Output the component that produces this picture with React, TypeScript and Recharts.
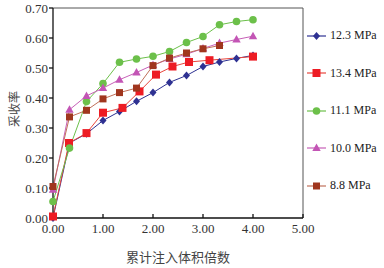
import { LineChart, Line, XAxis, YAxis, Legend, ReferenceLine } from "recharts";

const xEven = [0, 0.33, 0.67, 1.0, 1.33, 1.67, 2.0, 2.33, 2.67, 3.0, 3.33, 3.67, 4.0];
const xRed = [0, 0.32, 0.67, 1.0, 1.39, 1.73, 2.06, 2.39, 2.72, 3.13, 4.0];
const xBrown = [0, 0.33, 0.67, 1.0, 1.33, 1.67, 2.0, 2.33, 2.67, 3.0, 3.33];

const p123 = [0.0, 0.25, 0.281, 0.325, 0.355, 0.389, 0.418, 0.452, 0.475, 0.505, 0.52, 0.532, 0.542];
const p134 = [0.005, 0.25, 0.283, 0.351, 0.367, 0.422, 0.478, 0.505, 0.52, 0.526, 0.538];
const p111 = [0.055, 0.233, 0.388, 0.448, 0.519, 0.53, 0.539, 0.555, 0.585, 0.605, 0.644, 0.655, 0.661];
const p100 = [0.094, 0.361, 0.407, 0.433, 0.461, 0.485, 0.51, 0.53, 0.546, 0.565, 0.583, 0.595, 0.606];
const p88 = [0.105, 0.337, 0.359, 0.397, 0.418, 0.433, 0.508, 0.533, 0.55, 0.564, 0.575];

const xTicks = [0, 1, 2, 3, 4, 5];
const yTicks = [0, 0.1, 0.2, 0.3, 0.4, 0.5, 0.6, 0.7];

const toRows = (xs: number[], ys: number[]) => xs.map((x, i) => ({ x, y: ys[i] }));

const series = [
  { name: "12.3 MPa", data: toRows(xEven, p123), line: "#2e3192", fill: "#2e3192", shape: "diamond" },
  { name: "13.4 MPa", data: toRows(xRed, p134), line: "#e8453c", fill: "#ed1c24", shape: "square" },
  { name: "11.1 MPa", data: toRows(xEven, p111), line: "#6cc04a", fill: "#6cc04a", shape: "circle" },
  { name: "10.0 MPa", data: toRows(xEven, p100), line: "#c760b8", fill: "#c355b5", shape: "triangle" },
  { name: "8.8 MPa", data: toRows(xBrown, p88), line: "#c0705a", fill: "#a0361e", shape: "brownsquare" },
];

const serif = "'Liberation Serif', 'DejaVu Serif', serif";
const cjk = "'Noto Sans CJK SC', sans-serif";

function Marker({ shape, cx, cy, fill }: { shape: string; cx: number; cy: number; fill: string }) {
  if (shape === "diamond")
    return <polygon points={`${cx},${cy - 4} ${cx + 3.5},${cy} ${cx},${cy + 4} ${cx - 3.5},${cy}`} fill={fill} />;
  if (shape === "square") return <rect x={cx - 4} y={cy - 4} width={8} height={8} fill={fill} />;
  if (shape === "brownsquare") return <rect x={cx - 3.5} y={cy - 3.5} width={7} height={7} fill={fill} />;
  if (shape === "circle") return <circle cx={cx} cy={cy} r={3.8} fill={fill} />;
  return <polygon points={`${cx},${cy - 4.5} ${cx + 4.2},${cy + 3} ${cx - 4.2},${cy + 3}`} fill={fill} />;
}

const renderDot = (shape: string, fill: string) => (p: any) => (
  <Marker key={`d-${p.index}`} shape={shape} cx={p.cx} cy={p.cy} fill={fill} />
);

function LegendBox({ payload }: any) {
  const order = series.map((s) => s.name);
  const items = [...(payload || [])].sort((a: any, b: any) => order.indexOf(a.value) - order.indexOf(b.value));
  return (
    <div>
      {items.map((entry: any) => {
        const s = series.find((v) => v.name === entry.value)!;
        return (
          <div key={entry.value} style={{ display: "flex", alignItems: "center", height: 37.5 }}>
            <svg width={22} height={12}>
              <line x1={1} y1={6} x2={20} y2={6} stroke={s.line} strokeWidth={1.2} />
              <Marker shape={s.shape} cx={10.5} cy={6} fill={s.fill} />
            </svg>
            <span style={{ fontFamily: serif, fontSize: 12, color: "#222", marginLeft: 2 }}>{entry.value}</span>
          </div>
        );
      })}
    </div>
  );
}

// y axis title, sitting a little above the plot's middle like the original
function YLabel() {
  return (
    <text x={13} y={109} transform="rotate(-90 13 109)" textAnchor="middle" dominantBaseline="central"
      fill="#444" fontFamily={cjk} fontSize={12}>
      采收率
    </text>
  );
}

export default function App() {
  return (
    <div style={{ position: "absolute", left: 0, top: 0 }}>
      <LineChart width={384} height={268} margin={{ top: 8, right: 81, bottom: 25, left: 0 }}>
        <XAxis
          dataKey="x"
          type="number"
          domain={[0, 5]}
          ticks={xTicks}
          tickFormatter={(v: number) => v.toFixed(2)}
          tickSize={-4}
          tickMargin={10}
          height={25}
          stroke="#111"
          strokeWidth={1.3}
          tick={{ fill: "#333", fontFamily: serif, fontSize: 13 }}
          allowDuplicatedCategory={false}
          label={{ value: "累计注入体积倍数", position: "insideBottom", offset: -19, fill: "#444", fontFamily: cjk, fontSize: 13 }}
        />
        <YAxis
          type="number"
          domain={[0, 0.7]}
          ticks={yTicks}
          tickFormatter={(v: number) => v.toFixed(2)}
          width={53}
          tickSize={4}
          tickMargin={1}
          stroke="#111"
          strokeWidth={1.3}
          tick={{ fill: "#333", fontFamily: serif, fontSize: 13 }}
          label={<YLabel />}
        />
        <ReferenceLine y={0.7} stroke="#555" strokeWidth={1} />
        <ReferenceLine x={5} stroke="#555" strokeWidth={1} />
        {series.map((s) => (
          <Line
            key={s.name}
            name={s.name}
            data={s.data}
            dataKey="y"
            stroke={s.line}
            strokeWidth={1}
            dot={renderDot(s.shape, s.fill)}
            activeDot={false}
            isAnimationActive={false}
          />
        ))}
        <Legend
          layout="vertical"
          align="center"
          verticalAlign="middle"
          content={<LegendBox />}
          wrapperStyle={{ left: 306, top: 17, width: 78 }}
        />
      </LineChart>
    </div>
  );
}
